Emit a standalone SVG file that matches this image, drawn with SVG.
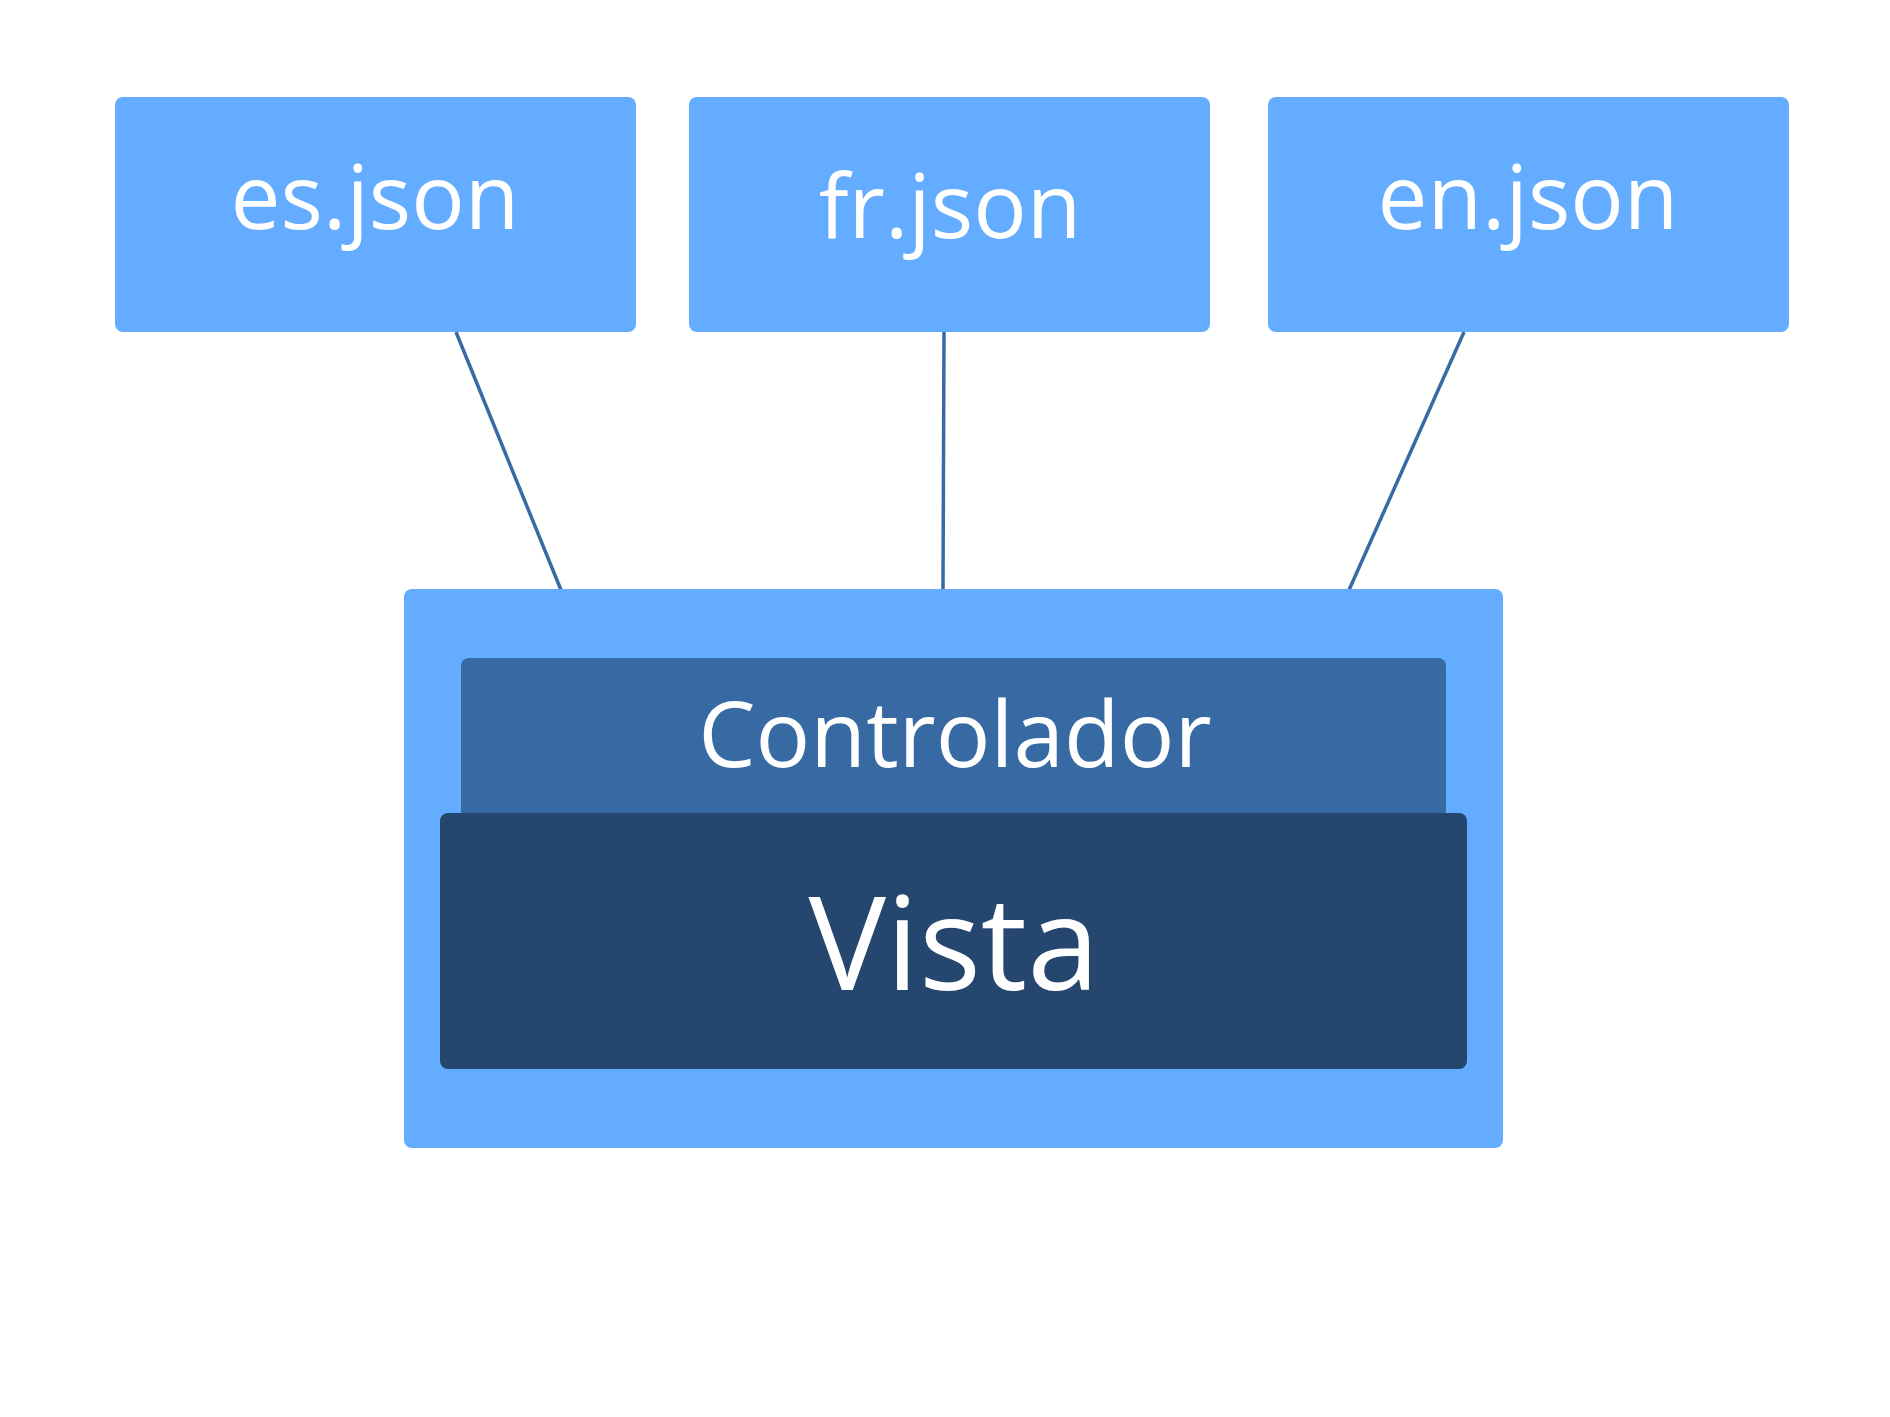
<svg xmlns="http://www.w3.org/2000/svg" width="1890" height="1417" viewBox="0 0 1890 1417">
<style>
.light{fill:#63acff}
.ctrl{fill:#376aa3}
.vista{fill:#24466f}
.lbl{fill:#ffffff;font-family:"Open Sans","Noto Sans","Liberation Sans",sans-serif;text-anchor:middle}
.conn{stroke:#386aa3;stroke-width:3.5;fill:none}
</style>
<rect width="1890" height="1417" fill="#ffffff"/>
<g id="connectors">
<line class="conn" x1="456" y1="332" x2="561" y2="590"/>
<line class="conn" x1="944" y1="332" x2="943" y2="590"/>
<line class="conn" x1="1464" y1="332" x2="1349" y2="590"/>
</g>
<g id="es-json">
<rect class="light" x="115" y="97" width="521" height="235" rx="8"/>
<text class="lbl" x="375" y="229" font-size="89">es.json</text>
</g>
<g id="fr-json">
<rect class="light" x="689" y="97" width="521" height="235" rx="8"/>
<text class="lbl" x="950" y="238" font-size="89">fr.json</text>
</g>
<g id="en-json">
<rect class="light" x="1268" y="97" width="521" height="235" rx="8"/>
<text class="lbl" x="1528" y="229" font-size="89">en.json</text>
</g>
<g id="contenedor">
<rect class="light" x="404" y="589" width="1099" height="559" rx="8"/>
</g>
<g id="controlador">
<rect class="ctrl" x="461" y="658" width="985" height="200" rx="8"/>
<text class="lbl" x="955" y="767" font-size="91">Controlador</text>
</g>
<g id="vista">
<rect class="vista" x="440" y="813" width="1027" height="256" rx="8"/>
<text class="lbl" x="954" y="990" font-size="130">Vista</text>
</g>
</svg>
